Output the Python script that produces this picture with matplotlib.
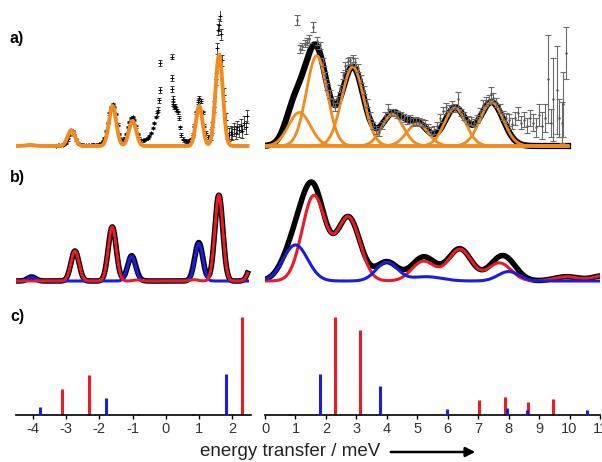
import numpy as np
import matplotlib.pyplot as plt

plt.rcParams['font.family'] = ['Liberation Sans', 'DejaVu Sans']

# ---------------- panel a, left: measured points + gaussian fit ----------------
a_left_E = [-3.30, -3.25, -3.20, -3.15, -3.10, -3.05, -3.00, -2.95, -2.90, -2.85,
            -2.80, -2.75, -2.70, -2.65, -2.60, -2.55, -2.50, -2.45, -2.40, -2.35,
            -2.30, -2.25, -2.20, -2.15, -2.10, -2.05, -2.00, -1.95, -1.90, -1.85,
            -1.80, -1.75, -1.70, -1.65, -1.60, -1.55, -1.50, -1.45, -1.40, -1.35,
            -1.30, -1.25, -1.20, -1.15, -1.10, -1.05, -1.00, -0.95, -0.90, -0.85,
            -0.80, -0.75, -0.70, -0.65, -0.60, -0.55, -0.50, -0.45, -0.40, -0.35,
            -0.30, -0.26, -0.23, -0.21, -0.19, -0.17,
            0.17, 0.18, 0.19, 0.20, 0.22, 0.25, 0.28, 0.30, 0.33, 0.36,
            0.40, 0.43, 0.46, 0.50, 0.55, 0.60, 0.65, 0.70, 0.75, 0.80,
            0.85, 0.90, 0.95, 1.00, 1.05, 1.10, 1.15, 1.20, 1.25, 1.30,
            1.35, 1.40, 1.45, 1.50, 1.55, 1.58, 1.60, 1.62, 1.65, 1.70,
            1.75, 1.80, 1.85, 1.90, 1.95, 2.00, 2.05, 2.10, 2.15, 2.20,
            2.25, 2.30, 2.35, 2.40, 2.45]
a_left_I = [0.005, 0.006, 0.008, 0.010, 0.012, 0.020, 0.035, 0.070, 0.120, 0.170,
            0.160, 0.120, 0.070, 0.035, 0.020, 0.015, 0.012, 0.010, 0.010, 0.012,
            0.010, 0.012, 0.015, 0.012, 0.012, 0.015, 0.020, 0.030, 0.050, 0.090,
            0.160, 0.250, 0.350, 0.420, 0.450, 0.420, 0.340, 0.230, 0.130, 0.070,
            0.060, 0.080, 0.130, 0.200, 0.260, 0.300, 0.310, 0.280, 0.210, 0.130,
            0.080, 0.060, 0.060, 0.065, 0.075, 0.090, 0.110, 0.140, 0.190, 0.250,
            0.310, 0.350, 0.390, 0.490, 0.600, 0.890,
            0.960, 0.730, 0.610, 0.510, 0.450, 0.420, 0.430, 0.400, 0.380, 0.360,
            0.300, 0.200, 0.120, 0.080, 0.060, 0.050, 0.045, 0.050, 0.070, 0.120,
            0.220, 0.360, 0.470, 0.520, 0.480, 0.360, 0.220, 0.140, 0.100, 0.100,
            0.120, 0.200, 0.420, 0.720, 1.050, 1.250, 1.300, 1.400, 1.200, 0.920,
            0.550, 0.280, 0.140, 0.120, 0.150, 0.130, 0.180, 0.140, 0.200, 0.170,
            0.220, 0.160, 0.250, 0.200, 0.320]
a_left_err = ([0.012] * 61 + [0.03] * 5 + [0.03] * 4 + [0.02] * 26
              + [0.06] * 10 + [0.07] * 15)

a_left_pos = [-4.08, -2.84, -1.60, -1.00, 1.00, 1.60]
a_left_amp = [0.012, 0.17, 0.43, 0.27, 0.43, 0.98]
a_left_wid = [0.12, 0.11, 0.11, 0.11, 0.10, 0.11]

# ---------------- panel a, right ----------------
a_right_E = [1.04, 1.15, 1.22, 1.30, 1.37, 1.45, 1.59, 1.70, 1.80, 1.90,
             1.97, 2.05, 2.13, 2.22, 2.30, 2.38, 2.45, 2.55, 2.63, 2.72,
             2.80, 2.88, 2.96, 3.05, 3.15, 3.25, 3.35, 3.45, 3.55, 3.65,
             3.75, 3.85, 3.95, 4.05, 4.15, 4.25, 4.35, 4.45, 4.55, 4.65,
             4.75, 4.85, 4.95, 5.05, 5.15, 5.25, 5.35, 5.45, 5.55, 5.65,
             5.75, 5.85, 5.95, 6.05, 6.15, 6.25, 6.35, 6.45, 6.55, 6.65,
             6.75, 6.85, 6.95, 7.05, 7.15, 7.25, 7.35, 7.42, 7.50, 7.60,
             7.70, 7.80, 7.90, 8.00, 8.10, 8.20, 8.30, 8.40, 8.50, 8.60,
             8.70, 8.80, 8.90, 9.00, 9.10, 9.20, 9.30, 9.40, 9.47, 9.58,
             9.65, 9.74, 9.80, 9.88]
a_right_I = [1.35, 1.04, 1.07, 1.10, 1.12, 1.15, 1.28, 1.13, 1.08, 0.90,
             0.76, 0.64, 0.56, 0.47, 0.42, 0.50, 0.62, 0.76, 0.86, 0.91,
             0.92, 0.94, 0.90, 0.84, 0.72, 0.60, 0.46, 0.33, 0.22, 0.17,
             0.15, 0.22, 0.32, 0.40, 0.36, 0.36, 0.34, 0.33, 0.30, 0.28,
             0.29, 0.26, 0.27, 0.26, 0.25, 0.24, 0.20, 0.16, 0.17, 0.22,
             0.30, 0.38, 0.42, 0.40, 0.44, 0.41, 0.50, 0.36, 0.32, 0.28,
             0.27, 0.25, 0.29, 0.36, 0.44, 0.48, 0.50, 0.56, 0.52, 0.47,
             0.40, 0.33, 0.30, 0.28, 0.24, 0.30, 0.35, 0.25, 0.28, 0.22,
             0.30, 0.25, 0.20, 0.33, 0.22, 0.30, 0.72, 0.25, 0.50, 0.60,
             0.30, 0.25, 0.45, 1.00]
a_right_err = [0.055, 0.04, 0.04, 0.04, 0.04, 0.04, 0.055, 0.04, 0.04, 0.04,
               0.04, 0.04, 0.04, 0.04, 0.04, 0.04, 0.04, 0.04, 0.04, 0.04,
               0.04, 0.04, 0.04, 0.04, 0.04, 0.04, 0.04, 0.04, 0.04, 0.04,
               0.04, 0.04, 0.04, 0.05, 0.04, 0.04, 0.04, 0.04, 0.04, 0.04,
               0.04, 0.04, 0.04, 0.04, 0.04, 0.04, 0.04, 0.04, 0.04, 0.04,
               0.04, 0.04, 0.04, 0.04, 0.04, 0.04, 0.08, 0.04, 0.04, 0.04,
               0.04, 0.04, 0.04, 0.05, 0.05, 0.05, 0.05, 0.07, 0.05, 0.05,
               0.05, 0.05, 0.05, 0.06, 0.06, 0.07, 0.07, 0.07, 0.08, 0.08,
               0.09, 0.09, 0.10, 0.12, 0.14, 0.15, 0.47, 0.15, 0.45, 0.47,
               0.20, 0.22, 0.35, 0.28]

a_right_pos = [1.13, 1.70, 2.88, 4.19, 5.00, 6.24, 7.44]
a_right_amp = [0.36, 0.97, 0.85, 0.34, 0.24, 0.41, 0.47]
a_right_wid = [0.36, 0.34, 0.36, 0.35, 0.35, 0.35, 0.38]
a_right_bg = (0.90, 0.14, 0.25)   # extra term only in the total fit

# ---------------- panel b: calculated spectra ----------------
b_left_red_pos = [-2.73, -1.61, -0.85, 0.85, 1.59, 2.62]
b_left_red_amp = [0.35, 0.63, 0.012, 0.015, 1.00, 0.25]
b_left_blue_pos = [-4.03, -1.03, 0.99]
b_left_blue_amp = [0.047, 0.29, 0.44]
b_left_wid = 0.12

b_right_red_pos = [1.60, 2.74, 5.20, 6.40, 7.70, 9.90, 11.10]
b_right_red_amp = [0.99, 0.74, 0.23, 0.37, 0.21, 0.05, 0.06]
b_right_red_wid = [0.38, 0.38, 0.38, 0.38, 0.38, 0.40, 0.35]
b_right_blue_pos = [1.00, 4.00, 5.30, 8.00]
b_right_blue_amp = [0.42, 0.22, 0.05, 0.11]
b_right_blue_wid = [0.40, 0.35, 0.50, 0.35]

# ---------------- panel c: transitions ----------------
c_red_E = [-3.13, -2.31, -0.85, 0.82, 2.30, 3.13, 7.04, 7.87, 8.63, 9.47]
c_red_h = [0.26, 0.41, 0.01, 0.01, 1.00, 0.87, 0.15, 0.18, 0.13, 0.16]
c_blue_E = [-3.77, -1.80, 1.80, 3.76, 5.99, 7.96, 8.60, 10.57]
c_blue_h = [0.085, 0.17, 0.42, 0.30, 0.06, 0.07, 0.05, 0.05]

ORANGE = '#f28a1c'
RED = '#ea1b22'
BLUE = '#1c1ce0'


def gauss_sum(x, pos, amp, wid):
    wid = np.broadcast_to(wid, np.shape(pos))
    y = np.zeros_like(x)
    for p, a, w in zip(pos, amp, wid):
        y += a * np.exp(-(x - p) ** 2 / (2 * w ** 2))
    return y


W, H = 602, 462
fig = plt.figure(figsize=(W / 100, H / 100), dpi=100)


def make_ax(x0, x1, base, top, ymax, pad=5):
    scale = (base - top) / ymax
    ax = fig.add_axes([x0 / W, 1 - (base + pad) / H, (x1 - x0) / W, (base + pad - top) / H])
    ax.set_ylim(-pad / scale, ymax)
    return ax


L0, L1, R0, R1 = 16, 250.8, 265, 600
xl = (-4.5, 2.55)
xr = (0.0, 11.0)

axa_l = make_ax(L0, L1, 146, 11, 1.45)
axa_r = make_ax(R0, R1, 146, 11, 1.45)
axb_l = make_ax(L0, L1, 281, 178, 1.2)
axb_r = make_ax(R0, R1, 281, 178, 1.2)
axc_l = make_ax(L0, L1, 415, 312, 1.05, pad=1)
axc_r = make_ax(R0, R1, 415, 312, 1.05, pad=1)

for ax in (axa_l, axb_l, axc_l):
    ax.set_xlim(*xl)
for ax in (axa_r, axb_r, axc_r):
    ax.set_xlim(*xr)

# a) left
xa = np.linspace(-4.5, 2.45, 1400)
axa_l.errorbar(a_left_E, a_left_I, yerr=a_left_err, fmt='+', ms=3.5, mew=0.7,
               color='k', ecolor='#333333', elinewidth=0.6, capsize=1.6, capthick=0.6,
               zorder=2)
axa_l.plot(xa, gauss_sum(xa, a_left_pos, a_left_amp, a_left_wid), color=ORANGE, lw=2.8,
           zorder=3)

# a) right
xr_a = np.linspace(0.0, 9.95, 1400)
comps = [gauss_sum(xr_a, [p], [a], [w]) for p, a, w in zip(a_right_pos, a_right_amp, a_right_wid)]
total = np.sum(comps, axis=0) + gauss_sum(xr_a, [a_right_bg[0]], [a_right_bg[1]], [a_right_bg[2]])
axa_r.plot(xr_a, total, color='k', lw=4.5, zorder=2)
for c in comps:
    axa_r.plot(xr_a, c, color=ORANGE, lw=2.0, zorder=3)
axa_r.errorbar(a_right_E, a_right_I, yerr=a_right_err, fmt='.', ms=1.5, color='#555555',
               ecolor='#6a6a6a', elinewidth=0.8, capsize=2.2, capthick=0.8, zorder=4)

# b) left
xb = np.linspace(-4.5, 2.45, 1400)
red_l = gauss_sum(xb, b_left_red_pos, b_left_red_amp, b_left_wid)
blue_l = gauss_sum(xb, b_left_blue_pos, b_left_blue_amp, b_left_wid)
axb_l.plot(xb, red_l + blue_l, color='k', lw=4.0, zorder=2)
axb_l.plot(xb, blue_l, color=BLUE, lw=2.2, zorder=3)
axb_l.plot(xb, red_l, color=RED, lw=2.2, zorder=4)

# b) right
xb_r = np.linspace(0.0, 11.0, 1400)
red_r = gauss_sum(xb_r, b_right_red_pos, b_right_red_amp, b_right_red_wid)
blue_r = gauss_sum(xb_r, b_right_blue_pos, b_right_blue_amp, b_right_blue_wid)
axb_r.plot(xb_r, red_r + blue_r, color='k', lw=4.0, zorder=2)
axb_r.plot(xb_r, red_r, color=RED, lw=2.2, zorder=3)
axb_r.plot(xb_r, blue_r, color=BLUE, lw=2.2, zorder=4)

for ax in (axa_l, axa_r, axb_l, axb_r):
    ax.axis('off')

# c) stick spectra
for ax, ticks in ((axc_l, range(-4, 3)), (axc_r, range(0, 12))):
    ax.vlines(c_red_E, 0, c_red_h, color=RED, lw=2.2, zorder=2)
    ax.vlines(c_blue_E, 0, c_blue_h, color=BLUE, lw=2.2, zorder=3)
    for s in ('top', 'right', 'left'):
        ax.spines[s].set_visible(False)
    ax.spines['bottom'].set_position(('data', 0))
    ax.spines['bottom'].set_linewidth(1.2)
    ax.set_yticks([])
    ax.set_xticks(list(ticks))
    ax.set_xticklabels([str(t) for t in ticks])
    ax.tick_params(axis='x', direction='out', length=3, width=1, pad=2,
                   labelsize=10.5, labelcolor='#333333')
    ax.patch.set_visible(False)

# panel letters
for lab, py in (('a)', 39), ('b)', 177), ('c)', 316)):
    fig.text(10 / W, 1 - py / H, lab, fontsize=11.5, fontweight='bold', va='center', ha='left')

fig.text(290 / W, 1 - 452 / H, 'energy transfer / meV', fontsize=13.5, color='#222222',
         ha='center', va='center')
axc_r.annotate('', xy=(478 / W, 1 - 452 / H), xytext=(388 / W, 1 - 452 / H),
               xycoords='figure fraction', textcoords='figure fraction',
               arrowprops=dict(arrowstyle='-|>', lw=1.8, color='k', mutation_scale=14),
               annotation_clip=False)

fig.savefig('out.png', dpi=100)
